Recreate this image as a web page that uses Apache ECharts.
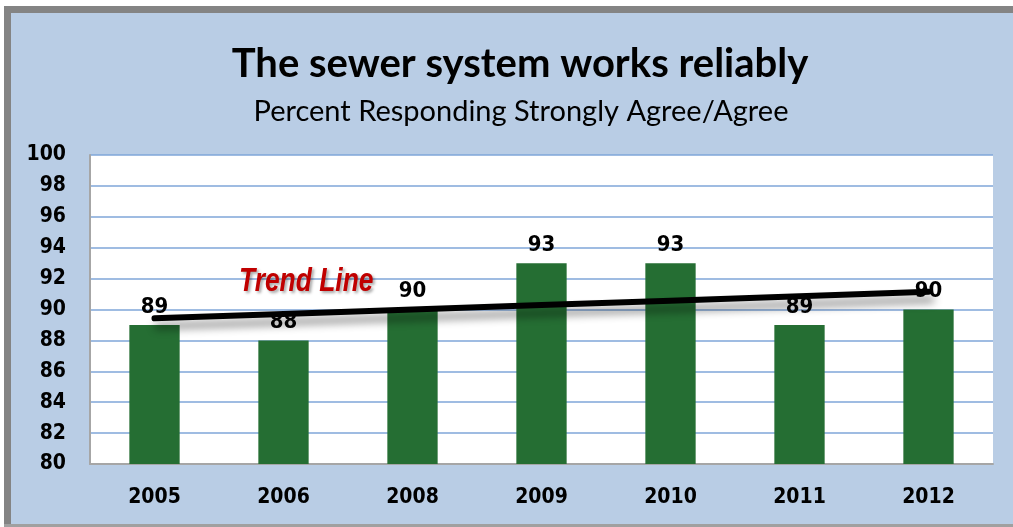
<!DOCTYPE html>
<html>
<head>
<meta charset="utf-8">
<script src="https://cdn.jsdelivr.net/npm/echarts@6/dist/echarts.min.js"></script>
<style>
	html, body { margin: 0; padding: 0; background: #fff; }
	#main { width: 1013px; height: 527px; }
</style>
</head>
<body>
<div id="main"></div>
<script>
// survey years and percent agreeing
const years = ["2005", "2006", "2008", "2009", "2010", "2011", "2012"];
const agreePct = [89, 88, 90, 93, 93, 89, 90];
const yTicks = [80, 100, 2]; // min, max, step

// least squares trend through the bars
function trendOf(values) {
	let n = values.length;
	let mx = (n - 1) / 2;
	let my = values.reduce((a, b) => a + b, 0) / n;
	let sxy = 0, sxx = 0;
	values.forEach(function (v, i) {
		sxy += (i - mx) * (v - my);
		sxx += (i - mx) * (i - mx);
	});
	let k = sxy / sxx;
	return values.map((v, i) => +(my + k * (i - mx)).toFixed(3));
}
const trend = trendOf(agreePct);

let chart = echarts.init(document.getElementById("main"));

let numFont = {
	color: "#000",
	fontFamily: "'DejaVu Sans Condensed', 'DejaVu Sans'",
	fontWeight: "bold",
	fontSize: 21
};

let option = {
	backgroundColor: "#b9cde5",
	animation: false,
	title: [
		{
			text: "The sewer system works reliably",
			left: 515,
			textAlign: "center",
			top: 39,
			textStyle: {
				fontFamily: "Lato",
				fontWeight: "bold",
				fontSize: 40,
				color: "#000"
			}
		},
		{
			text: "Percent Responding Strongly Agree/Agree",
			left: 516,
			textAlign: "center",
			top: 92,
			textStyle: {
				fontFamily: "Lato",
				fontWeight: "normal",
				fontSize: 29,
				color: "#000"
			}
		}
	],
	grid: {
		left: 90,
		right: 20,
		top: 155,
		bottom: 63,
		show: true,
		backgroundColor: "#fff",
		borderWidth: 0
	},
	xAxis: {
		type: "category",
		data: years,
		axisTick: { show: false },
		axisLine: { lineStyle: { color: "#a6a6a6", width: 2 } },
		axisLabel: Object.assign({ margin: 23 }, numFont)
	},
	yAxis: {
		type: "value",
		min: yTicks[0],
		max: yTicks[1],
		interval: yTicks[2],
		axisTick: { show: false },
		axisLine: { show: true, lineStyle: { color: "#a6a6a6", width: 2 } },
		splitLine: { lineStyle: { color: "#7fa6d9", width: 1.5 } },
		axisLabel: Object.assign({ margin: 24 }, numFont)
	},
	series: [
		{
			name: "Agree",
			type: "bar",
			data: agreePct,
			barWidth: "39%",
			itemStyle: { color: "#256e33" },
			label: Object.assign({ show: true, position: "top", distance: 7 }, numFont, { fontSize: 22 })
		},
		{
			name: "Trend",
			type: "line",
			data: trend,
			z: 5,
			symbol: "none",
			lineStyle: {
				color: "#000",
				width: 6,
				cap: "round",
				shadowColor: "rgba(0,0,0,0.45)",
				shadowBlur: 8,
				shadowOffsetX: 3,
				shadowOffsetY: 8
			}
		}
	],
	graphic: [
		{ type: "rect", shape: { x: 0, y: 0, width: 1013, height: 6 }, style: { fill: "#fff" }, silent: true },
		{ type: "rect", shape: { x: 0, y: 0, width: 4, height: 527 }, style: { fill: "#fff" }, silent: true },
		{ type: "rect", shape: { x: 4, y: 6, width: 1009, height: 7 }, style: { fill: "#848484" }, silent: true },
		{ type: "rect", shape: { x: 4, y: 6, width: 7, height: 521 }, style: { fill: "#848484" }, silent: true },
		{ type: "rect", shape: { x: 4, y: 524, width: 1009, height: 3 }, style: { fill: "#a0a0a0" }, silent: true },
		{
			type: "text",
			x: 239,
			y: 265,
			scaleX: 0.8,
			z: 10,
			style: {
				text: "Trend Line",
				fill: "#c00000",
				font: "italic bold 33px 'Liberation Sans', sans-serif",
				textShadowColor: "rgba(0,0,0,0.35)",
				textShadowBlur: 3,
				textShadowOffsetX: 2,
				textShadowOffsetY: 2
			}
		}
	]
};

chart.setOption(option);
</script>
</body>
</html>
